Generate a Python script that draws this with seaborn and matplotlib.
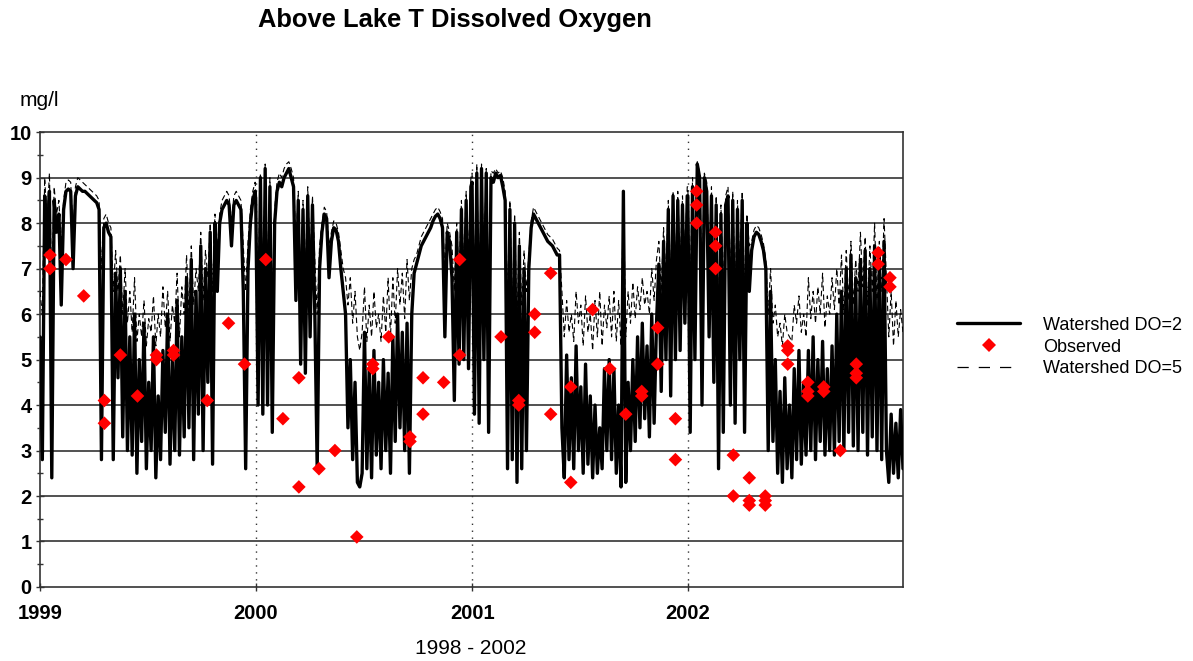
import matplotlib
matplotlib.use("Agg")
import matplotlib.pyplot as plt
from matplotlib.lines import Line2D
import numpy as np
import pandas as pd
import seaborn as sns

# ---------------- data (4-day samples) ----------------
years = [1999, 2000, 2001, 2002]

do2_1999 = [5.5, 2.8, 8.6, 7.4, 8.7, 2.4, 8.5, 7.8, 8.2, 6.2, 8.3, 8.7, 8.75, 8.7, 7.0, 8.6,
            8.8, 8.75, 8.7, 8.7, 8.65, 8.6, 8.55, 8.5, 8.45, 8.3, 2.8, 7.9, 8.0, 7.8, 7.7, 2.8,
            6.9, 4.6, 7.0, 3.3, 6.5, 3.0,
            5.5, 2.9, 6.0, 2.5, 5.0, 3.2, 5.8, 2.6, 4.5, 3.0, 5.5, 2.4, 4.2, 2.8, 5.2, 3.4,
            6.0, 2.7, 5.0, 3.0, 6.3, 2.9, 5.5, 3.3,
            6.8, 3.5, 7.2, 2.8, 6.5, 3.8, 7.5, 3.0, 7.0, 4.5, 7.8, 2.7, 8.0, 6.5,
            8.0, 8.3, 8.4, 8.5, 8.4, 7.5, 8.4, 8.5, 8.4, 8.3,
            6.5, 2.6, 7.0, 8.0, 8.5, 8.7]
do2_2000 = [8.5, 4.0, 9.0, 3.8, 9.2, 4.0, 8.8,
            3.4, 8.0,
            8.7, 8.9, 8.8, 9.0, 9.1, 9.2, 9.0, 8.8,
            6.3,
            8.5, 4.9, 8.3, 4.7, 8.6, 5.5, 8.4, 6.0, 2.6,
            7.0, 7.8, 8.2, 8.1, 6.8, 7.6, 7.9, 7.85, 7.6, 7.0, 6.5, 6.0,
            3.5, 5.0, 2.8, 4.5, 2.3, 2.2,
            2.5, 5.6, 2.6, 4.8, 2.4, 5.2, 2.9, 4.5, 2.6, 5.0, 3.0, 4.7, 2.5,
            5.5, 3.2, 6.0, 3.5, 5.6, 3.0, 5.8, 2.5,
            6.0, 6.9, 7.1, 7.3, 7.5, 7.6, 7.7, 7.8, 7.9, 8.05, 8.15, 8.2, 8.1,
            7.9, 5.5, 7.8, 7.6, 6.8,
            4.1,
            7.8, 4.9, 8.3, 5.0, 8.5, 4.8, 8.8]
do2_2001 = [8.9, 3.8, 9.1, 3.6, 9.2, 5.0,
            9.1, 3.4, 9.0, 8.9, 9.1, 9.0, 9.05, 8.8, 8.5, 2.6,
            8.3, 2.8, 8.0, 2.3, 7.5, 2.6, 7.0, 3.0,
            7.0, 7.9, 8.2, 8.1, 8.0, 7.9, 7.8, 7.7, 7.6, 7.55, 7.5, 7.4, 7.3, 7.3,
            3.5, 2.4,
            5.1, 2.8, 4.6, 2.6, 5.3, 3.0, 4.4, 2.5, 4.9, 2.7, 4.2, 2.4, 4.0, 2.5, 3.5, 2.6, 4.8, 3.0,
            5.0, 2.8, 4.8, 2.5, 4.0, 2.2, 8.7, 2.3,
            4.5, 3.0, 5.0, 3.2, 5.5, 3.5, 5.8, 3.7, 5.3, 3.3, 6.0, 3.6, 5.8,
            7.1, 4.3, 7.6, 5.0, 8.3, 4.2, 8.6, 5.0,
            8.5, 5.2, 8.4, 5.8, 8.6]
do2_2002 = [8.6, 3.4, 8.8, 5.0, 9.3, 9.0,
            4.0, 9.0, 8.7, 5.5, 8.6, 4.5, 8.4, 2.6,
            8.2, 3.4, 8.4, 8.6, 4.0, 8.5, 3.6, 8.3, 5.0, 8.5, 3.4, 8.0,
            6.5, 7.4, 7.7, 7.8, 7.75, 7.6, 7.4, 7.0, 3.0, 6.5, 3.2,
            5.0, 2.5, 4.3, 2.3, 4.6, 2.6, 4.0, 2.4, 4.8, 2.8, 5.2, 2.7, 4.5,
            2.9, 5.2, 3.0, 5.5, 2.8, 5.0, 3.2, 5.4, 2.9, 4.8, 3.0, 5.3, 2.9,
            6.0, 3.2, 6.5, 3.0, 7.0, 3.4, 7.3, 3.1, 6.8, 3.0,
            7.2, 3.4, 7.4, 2.9, 7.0, 3.3, 7.5, 3.0, 7.3, 2.8, 7.6, 3.0,
            2.3, 3.8, 2.5, 3.6, 2.4, 3.9, 2.6]

do5_1999 = [6.5, 6.0, 9.0, 8.0, 9.1, 6.5, 8.8, 8.2, 8.5, 7.5, 8.5, 8.9, 8.95, 8.9, 7.8, 8.8,
            9.0, 8.95, 8.9, 8.85, 8.8, 8.75, 8.7, 8.65, 8.6, 8.5, 7.0, 8.1, 8.2, 8.0, 7.9, 6.5,
            7.4, 6.5, 7.3, 6.0, 7.0, 5.8,
            6.5, 5.6, 6.8, 5.4, 6.0, 5.5, 6.3, 5.3, 5.9, 5.6, 6.4, 5.3, 6.0, 5.5, 6.6, 5.7,
            6.5, 5.4, 6.2, 5.8, 6.9, 5.5, 6.6, 6.0,
            7.3, 6.0, 7.5, 6.2, 7.0, 6.5, 7.8, 6.3, 7.4, 6.8, 8.0, 6.5, 8.2, 7.4,
            8.2, 8.5, 8.6, 8.7, 8.6, 8.0, 8.6, 8.7, 8.6, 8.5,
            7.5, 6.5, 7.6, 8.3, 8.7, 8.9]
do5_2000 = [8.7, 6.5, 9.1, 6.2, 9.3, 6.8, 9.0,
            6.0, 8.3,
            8.9, 9.1, 9.0, 9.2, 9.3, 9.35, 9.2, 9.0,
            7.5,
            8.7, 6.5, 8.5, 6.8, 8.8, 7.0, 8.6, 7.2, 6.0,
            7.5, 8.0, 8.35, 8.25, 7.5, 7.8, 8.05, 8.0, 7.8, 7.4, 7.0, 6.8,
            6.2, 6.8, 5.8, 6.5, 5.5, 5.2,
            5.6, 6.6, 5.4, 6.2, 5.5, 6.5, 5.7, 6.0, 5.4, 6.4, 5.6, 6.8, 5.5,
            6.8, 5.8, 7.0, 6.2, 6.9, 5.9, 7.2, 6.3,
            7.0, 7.2, 7.3, 7.5, 7.7, 7.8, 7.9, 8.0, 8.1, 8.2, 8.3, 8.35, 8.25,
            8.1, 7.0, 8.0, 7.8, 7.5,
            6.5,
            8.0, 6.8, 8.5, 7.0, 8.7, 7.2, 9.0]
do5_2001 = [9.1, 6.5, 9.3, 6.0, 9.3, 7.0,
            9.2, 6.2, 9.15, 9.1, 9.2, 9.1, 9.15, 9.0, 8.7, 6.2,
            8.5, 6.0, 8.2, 5.8, 7.8, 6.2, 7.4, 6.5,
            7.3, 8.05, 8.35, 8.25, 8.15, 8.05, 7.95, 7.85, 7.75, 7.7, 7.65, 7.55, 7.45, 7.4,
            6.5, 5.5,
            6.3, 5.6, 6.0, 5.4, 6.5, 5.8, 6.2, 5.3, 6.4, 5.6, 6.0, 5.2, 6.3, 5.5, 6.5, 5.3, 6.2, 5.7,
            6.4, 5.5, 6.5, 5.4, 6.3, 5.3, 8.7, 5.5,
            6.5, 5.8, 6.7, 5.9, 6.6, 6.1, 6.8, 6.2, 6.5, 6.0, 7.0, 6.3, 7.2,
            7.6, 6.5, 7.9, 6.8, 8.5, 6.6, 8.7, 7.0,
            8.7, 7.0, 8.6, 7.2, 8.8]
do5_2002 = [8.8, 6.5, 9.0, 7.0, 9.35, 9.1,
            6.5, 9.1, 8.9, 7.0, 8.8, 6.5, 8.6, 6.0,
            8.4, 6.5, 8.6, 8.8, 6.8, 8.7, 6.5, 8.5, 7.0, 8.7, 6.5, 8.2,
            7.5, 7.6, 7.85, 7.95, 7.9, 7.75, 7.55, 7.2, 6.0, 7.0, 5.8,
            6.2, 5.5, 5.8, 5.3, 6.0, 5.6, 5.5, 5.4, 6.2, 5.8, 6.4, 5.6, 6.0,
            5.5, 6.8, 5.9, 6.5, 5.8, 6.6, 6.0, 6.9, 5.7, 6.4, 6.0, 6.8, 6.1,
            7.0, 6.2, 7.3, 6.0, 7.4, 6.3, 7.6, 6.2, 7.2, 6.5,
            7.8, 6.6, 7.7, 6.2, 7.5, 6.5, 8.0, 6.3, 7.6, 6.5, 8.1, 6.8,
            5.5, 6.5, 5.3, 6.3, 5.5, 6.1, 5.6]

obs_dates = ["1999-01-18", "1999-01-18", "1999-02-14", "1999-03-16", "1999-04-20", "1999-04-20",
             "1999-05-17", "1999-06-15", "1999-07-17", "1999-07-17", "1999-08-15", "1999-08-15",
             "1999-10-11", "1999-11-16", "1999-12-13",
             "2000-01-18", "2000-02-16", "2000-03-14", "2000-03-14", "2000-04-17", "2000-05-14",
             "2000-06-20", "2000-07-17", "2000-07-17", "2000-08-13", "2000-09-18", "2000-09-18",
             "2000-10-10", "2000-10-10", "2000-11-14", "2000-12-11", "2000-12-11",
             "2001-02-19", "2001-03-21", "2001-03-21", "2001-04-17", "2001-04-17", "2001-05-14",
             "2001-05-14", "2001-06-17", "2001-06-17", "2001-07-24", "2001-08-22", "2001-09-18",
             "2001-10-15", "2001-10-15", "2001-11-11", "2001-11-11", "2001-12-11", "2001-12-11",
             "2002-01-16", "2002-01-16", "2002-01-16", "2002-02-17", "2002-02-17", "2002-02-17",
             "2002-03-19", "2002-03-19", "2002-04-15", "2002-04-15", "2002-04-15",
             "2002-05-12", "2002-05-12", "2002-05-12", "2002-06-19", "2002-06-19", "2002-06-19",
             "2002-07-23", "2002-07-23", "2002-07-23", "2002-08-19", "2002-08-19", "2002-09-16",
             "2002-10-13", "2002-10-13", "2002-10-13", "2002-11-19", "2002-11-19",
             "2002-12-09", "2002-12-09"]
obs_values = [7.3, 7.0, 7.2, 6.4, 4.1, 3.6,
              5.1, 4.2, 5.1, 5.0, 5.2, 5.1,
              4.1, 5.8, 4.9,
              7.2, 3.7, 4.6, 2.2, 2.6, 3.0,
              1.1, 4.9, 4.8, 5.5, 3.3, 3.2,
              4.6, 3.8, 4.5, 7.2, 5.1,
              5.5, 4.1, 4.0, 6.0, 5.6, 6.9,
              3.8, 4.4, 2.3, 6.1, 4.8, 3.8,
              4.3, 4.2, 5.7, 4.9, 3.7, 2.8,
              8.7, 8.4, 8.0, 7.8, 7.5, 7.0,
              2.9, 2.0, 2.4, 1.9, 1.8,
              2.0, 1.9, 1.8, 5.3, 5.2, 4.9,
              4.5, 4.3, 4.2, 4.4, 4.3, 3.0,
              4.9, 4.7, 4.6, 7.35, 7.1,
              6.8, 6.6]

year_ticks = ["1999", "2000", "2001", "2002"]
y_ticks = list(range(0, 11))
labels = ["Watershed DO=2", "Observed", "Watershed DO=5"]

# ---------------- build tables ----------------
frames = []
for yr, a, b in zip(years, [do2_1999, do2_2000, do2_2001, do2_2002],
                    [do5_1999, do5_2000, do5_2001, do5_2002]):
    n = min(len(a), len(b))
    d = pd.date_range(f"{yr}-01-01", periods=n, freq="4D")
    frames.append(pd.DataFrame({"date": d, "do2": a[:n], "do5": b[:n]}))
series = pd.concat(frames, ignore_index=True)
obs = pd.DataFrame({"date": pd.to_datetime(obs_dates), "value": obs_values})

# ---------------- plot ----------------
sns.set_theme(style="white")
plt.rcParams["font.family"] = ["Liberation Sans", "DejaVu Sans"]
for k in ["text.color", "axes.labelcolor", "xtick.color", "ytick.color"]:
    plt.rcParams[k] = "black"

fig = plt.figure(figsize=(11.93, 6.61), dpi=100)
ax = fig.add_axes([0.0335, 0.112, 0.7234, 0.688])

grid_col = "#333333"
for yv in y_ticks[1:-1]:
    ax.axhline(yv, color=grid_col, lw=1.2, zorder=1)
for t in year_ticks[1:]:
    ax.axvline(pd.Timestamp(f"{t}-01-01"), color=grid_col, lw=1.0,
               linestyle=(0, (1, 4)), zorder=1)

sns.lineplot(data=series, x="date", y="do2", ax=ax, color="black", linewidth=2.4,
             estimator=None, legend=False, zorder=3)
sns.lineplot(data=series, x="date", y="do5", ax=ax, color="black", linewidth=0.8,
             linestyle=(0, (5, 3)), estimator=None, legend=False, zorder=4)
sns.scatterplot(data=obs, x="date", y="value", ax=ax, color="red", marker="D",
                s=48, edgecolor="none", linewidth=0, legend=False, zorder=5)

ax.set_xlim(pd.Timestamp("1999-01-01"), pd.Timestamp("2002-12-31"))
ax.set_ylim(0, 10)
ax.set_xticks([pd.Timestamp(f"{t}-01-01") for t in year_ticks])
ax.set_xticklabels(year_ticks, fontsize=14.5, fontweight="bold")
ax.set_yticks(y_ticks)
ax.set_yticklabels([str(v) for v in y_ticks], fontsize=14.5, fontweight="bold")
ax.set_yticks(np.arange(0.5, 10, 1.0), minor=True)
ax.tick_params(axis="both", which="major", direction="inout", length=6, width=1,
               color=grid_col)
ax.tick_params(axis="x", which="major", pad=9.5, bottom=True)
ax.tick_params(axis="y", which="major", pad=3, left=True)
ax.tick_params(axis="y", which="minor", direction="inout", length=5, width=1,
               color=grid_col, left=True)
ax.set_xlabel("")
ax.set_ylabel("")
for sp in ax.spines.values():
    sp.set_color(grid_col)
    sp.set_linewidth(1.2)

fig.text(455 / 1193, 1 - 20 / 661, "Above Lake T Dissolved Oxygen", ha="center", va="center",
         fontsize=18.4, fontweight="bold")
fig.text(20 / 1193, 1 - 100 / 661, "mg/l", ha="left", va="center", fontsize=15)
fig.text(471 / 1193, 1 - 648 / 661, "1998 - 2002", ha="center", va="center", fontsize=15)

handles = [Line2D([], [], color="black", lw=2.4),
           Line2D([], [], color="red", marker="D", ls="none", markersize=7, markeredgewidth=0),
           Line2D([], [], color="black", lw=0.9, linestyle=(0, (9, 8)))]
fig.legend(handles, labels, loc="center left", bbox_to_anchor=(957 / 1193, 1 - 347 / 661),
           frameon=False, prop={"size": 13}, handlelength=3.5,
           handletextpad=1.25, labelspacing=0.26, borderpad=0, borderaxespad=0)

fig.savefig("out.png", dpi=100)
